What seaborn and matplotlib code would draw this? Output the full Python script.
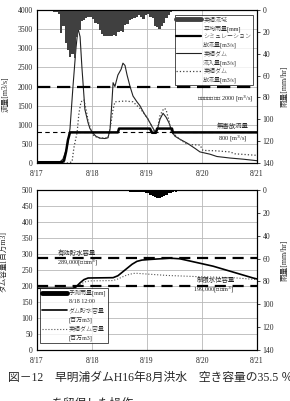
import numpy as np
import matplotlib
matplotlib.use("Agg")
import matplotlib.pyplot as plt
import seaborn as sns
from matplotlib.lines import Line2D

sns.set_theme(style="white")
plt.rcParams['font.family'] = ['Liberation Serif', 'Noto Sans CJK JP']
plt.rcParams['axes.unicode_minus'] = False

day_ticks = [0, 24, 48, 72, 96]          # hours from 8/17 0:00
day_labels = ['8/17', '8/18', '8/19', '8/20', '8/21']

# --- top chart: flows [m3/s] (hours from 8/17 0:00) ---
t_inflow = [0, 10.0, 11.3, 13.1, 14.4, 15.7, 17.0, 17.9, 18.8, 19.6, 20.9, 22.3, 23.1, 24.4, 25.7,
            27.5, 29.7, 31.0, 31.9, 32.7, 33.2, 34.0, 35.3, 36.7, 37.5, 38.4, 39.3, 40.6, 41.9,
            43.6, 44.9, 46.7, 48.4, 50.2, 51.5, 52.4, 53.7, 55.0, 56.3, 57.6, 58.9, 60.2, 62.4,
            65.5, 69.0, 71.1, 75.5, 78.5, 84.2, 89.9, 96.0]
q_inflow = [20, 30, 100, 400, 900, 2000, 3000, 3520, 3300, 2500, 1400, 1050, 900, 780, 700,
            650, 640, 660, 900, 1600, 2100, 2000, 2300, 2450, 2610, 2550, 2300, 2000, 1750,
            1600, 1500, 1300, 1150, 950, 820, 850, 1150, 1300, 1200, 1050, 820, 700, 620,
            520, 380, 290, 230, 170, 130, 100, 60]

t_sim = [0, 10.9, 11.8, 12.7, 13.5, 14.4, 35.3, 35.8, 49.3, 50.2, 51.9, 52.4, 58.9, 59.3, 96]
q_sim = [20, 20, 60, 300, 600, 800, 800, 900, 900, 790, 790, 900, 900, 800, 800]

t_release = [0, 13.5, 15.3, 16.1, 17.5, 18.3, 19.2, 20.5, 21.4, 22.3, 23.6, 24.9, 27.5, 31.0,
             31.9, 33.2, 34.0, 38.4, 41.9, 43.6, 44.9, 46.7, 48.4, 50.2, 51.5, 52.4, 53.7,
             55.4, 56.3, 57.6, 58.5, 60.2, 62.4, 64.6, 66.8, 71.1, 72.4, 77.7, 84.2, 86.4, 96]
q_release = [0, 0, 30, 400, 800, 1300, 1600, 1650, 1400, 1100, 850, 700, 650, 660,
             900, 1400, 1600, 1620, 1600, 1500, 1430, 1300, 1150, 950, 800, 850, 1250,
             1430, 1400, 1100, 800, 730, 620, 520, 480, 470, 330, 320, 290, 240, 200]

# basin average rainfall [mm/hr], hourly from 8/17 0:00
rain_obs = [0, 0, 0, 1, 1, 1, 1, 2, 2, 4,
            21, 15, 30, 37, 43, 40, 44, 25, 18, 10,
            9, 7, 6, 6, 8, 12, 13, 18, 22, 24,
            24, 24, 24, 23, 24, 20, 19, 20, 14, 13,
            9, 8, 7, 6, 5, 6, 8, 5, 4, 6,
            7, 15, 16, 17, 15, 12, 7, 5, 2, 1, 0]

# --- bottom chart: storage [million m3] ---
t_storage = [0, 15.7, 17.0, 18.8, 20.5, 22.3, 33.2, 35.3, 38.4, 41.5, 43.6, 45.8, 49.3,
             53.7, 58.0, 62.4, 76.8, 94.3, 96]
v_storage = [193, 193, 197, 210, 220, 225, 226, 232, 250, 268, 277, 281, 283,
             285, 287, 285, 262, 225, 222]

t_storage_obs = [0, 16.6, 18.8, 20.9, 23.1, 33.2, 35.3, 38.4, 40.6, 42.8, 56.7, 71.1, 85.5, 96]
v_storage_obs = [192, 192, 205, 213, 216, 217, 222, 232, 237, 240, 233, 229, 226, 220]

# forecast rainfall issued 8/18 12:00 [mm/hr], hourly from hour 37
rain_fc_start = 37
rain_fc = [1, 1, 1, 1.5, 1.5, 1.5, 1.5, 2, 2, 2, 2.5,
           3, 4, 5, 6, 7, 7,
           6, 5, 4, 3, 2.5, 2, 1.5, 1]

fig = plt.figure(figsize=(2.9, 4.01), dpi=100)
ax1 = fig.add_axes([37/290, 1-163/401, 220/290, 153/401])
ax3 = fig.add_axes([37/290, 1-350/401, 220/290, 160/401])

grid_c = '#b8b8b8'
fs = 5.5
small = 4.6

# ---------------- top chart ----------------
ax1.set_xlim(0, 96)
ax1.set_ylim(0, 4000)
ax1.set_yticks(range(0, 4001, 500))
ax1.set_xticks(day_ticks)
ax1.set_xticklabels(day_labels)
ax1.grid(True, color=grid_c, lw=0.6)

sns.lineplot(x=t_inflow, y=q_inflow, ax=ax1, color='#222222', linewidth=0.8)
sns.lineplot(x=t_release, y=q_release, ax=ax1, color='#444444', linewidth=0.9, linestyle=':')
sns.lineplot(x=t_sim, y=q_sim, ax=ax1, color='black', linewidth=1.8)
ax1.axhline(2000, color='black', lw=1.6, dashes=(6, 3))
ax1.axhline(800, color='black', lw=0.8, dashes=(4, 3))

ax1.text(94.5, 1670, '計画最大放流量 2000 [m$^3$/s]', fontsize=small, ha='right', va='center')
ax1.text(85.5, 975, '無害放流量', fontsize=small, ha='center', va='center')
ax1.text(85.5, 640, '800 [m$^3$/s]', fontsize=small, ha='center', va='center')

ax2 = ax1.twinx()
ax2.set_ylim(140, 0)
ax2.set_yticks(range(0, 141, 20))
ax2.bar(np.arange(len(rain_obs)) + 0.5, rain_obs, width=1.0, color='#404040', linewidth=0)
ax2.grid(False)

handles = [Line2D([], [], color='#404040', lw=3.5), Line2D([], [], color='none'),
           Line2D([], [], color='black', lw=1.6), Line2D([], [], color='none'),
           Line2D([], [], color='#222222', lw=0.8), Line2D([], [], color='none'),
           Line2D([], [], color='#444444', lw=0.9, ls=':'), Line2D([], [], color='none')]
labels = ['実績流域', '平均雨量[mm]', 'シミュレーション', '放流量[m3/s]',
          '実績ダム', '流入量[m3/s]', '実績ダム', '放流量[m3/s]']
leg = ax2.legend(handles, labels, loc='upper right', bbox_to_anchor=(0.982, 0.967),
                 fontsize=4.3, frameon=True, fancybox=False, edgecolor='black',
                 handlelength=4.2, handletextpad=0.3, labelspacing=0.42, borderpad=0.3,
                 borderaxespad=0, prop={'weight': 'light', 'size': 4.3})
leg.get_frame().set_linewidth(0.6)

ax1.set_ylabel('流量[m3/s]', fontsize=fs)
ax1.yaxis.set_label_coords(-0.125, 0.45)
ax2.set_ylabel('雨量[mm/hr]', fontsize=fs)
ax2.yaxis.set_label_coords(1.108, 0.5)

# ---------------- bottom chart ----------------
ax3.set_xlim(0, 96)
ax3.set_ylim(0, 500)
ax3.set_yticks(range(0, 501, 50))
ax3.set_xticks(day_ticks)
ax3.set_xticklabels(day_labels)
ax3.grid(True, color=grid_c, lw=0.6)

sns.lineplot(x=t_storage_obs, y=v_storage_obs, ax=ax3, color='#555555', linewidth=0.8, linestyle=':')
sns.lineplot(x=t_storage, y=v_storage, ax=ax3, color='black', linewidth=1.2)
ax3.axhline(289, color='black', lw=1.6, dashes=(5, 3))
ax3.axhline(199, color='black', lw=1.6, dashes=(5, 3))

ax3.text(17.5, 303, '有効貯水容量', fontsize=small, ha='center', va='center')
ax3.text(17.5, 272, '289,000[千万m$^3$]', fontsize=small, ha='center', va='center')
ax3.text(78, 219, '制限水位容量', fontsize=small, ha='center', va='center')
ax3.text(77, 187, '199,000[千万m$^3$]', fontsize=small, ha='center', va='center')

ax4 = ax3.twinx()
ax4.set_ylim(140, 0)
ax4.set_yticks(range(0, 141, 20))
ax4.bar(np.arange(len(rain_fc)) + rain_fc_start + 0.5, rain_fc, width=1.0, color='black', linewidth=0)
ax4.grid(False)

handles = [Line2D([], [], color='black', lw=3.5), Line2D([], [], color='none'),
           Line2D([], [], color='black', lw=1.2), Line2D([], [], color='none'),
           Line2D([], [], color='#555555', lw=0.8, ls=':'), Line2D([], [], color='none')]
labels = ['予測雨量[mm]', '8/18 12:00', 'ダム貯水容量', '[百万m3]', '実績ダム容量', '[百万m3]']
leg = ax4.legend(handles, labels, loc='lower left', bbox_to_anchor=(0.014, 0.044),
                 frameon=True, fancybox=False, edgecolor='black',
                 handlelength=4.2, handletextpad=0.3, labelspacing=0.5, borderpad=0.3,
                 borderaxespad=0, prop={'weight': 'light', 'size': 4.3})
leg.get_frame().set_linewidth(0.6)

ax3.set_ylabel('ダム容量[百万m3]', fontsize=fs)
ax3.yaxis.set_label_coords(-0.135, 0.55)
ax4.set_ylabel('雨量[mm/hr]', fontsize=fs)
ax4.yaxis.set_label_coords(1.108, 0.56)

for a in (ax1, ax2, ax3, ax4):
    for s in a.spines.values():
        s.set_color('black')
        s.set_linewidth(0.8)
for a in (ax1, ax3):
    a.tick_params(axis='both', labelsize=fs, length=0, pad=3)
    a.tick_params(axis='x', pad=5)
for a in (ax2, ax4):
    a.tick_params(axis='y', right=True, labelsize=fs, length=2, width=0.6, direction='out', pad=2)

fig.text(8/290, 1-378/401, '図－12　早明浦ダムH16年8月洪水　空き容量の35.5 ％',
         fontsize=8.5, ha='left', va='center')
fig.text(52/290, 1-404/401, 'を留保した操作', fontsize=8.5, ha='left', va='center')

fig.savefig('out.png', dpi=100)
